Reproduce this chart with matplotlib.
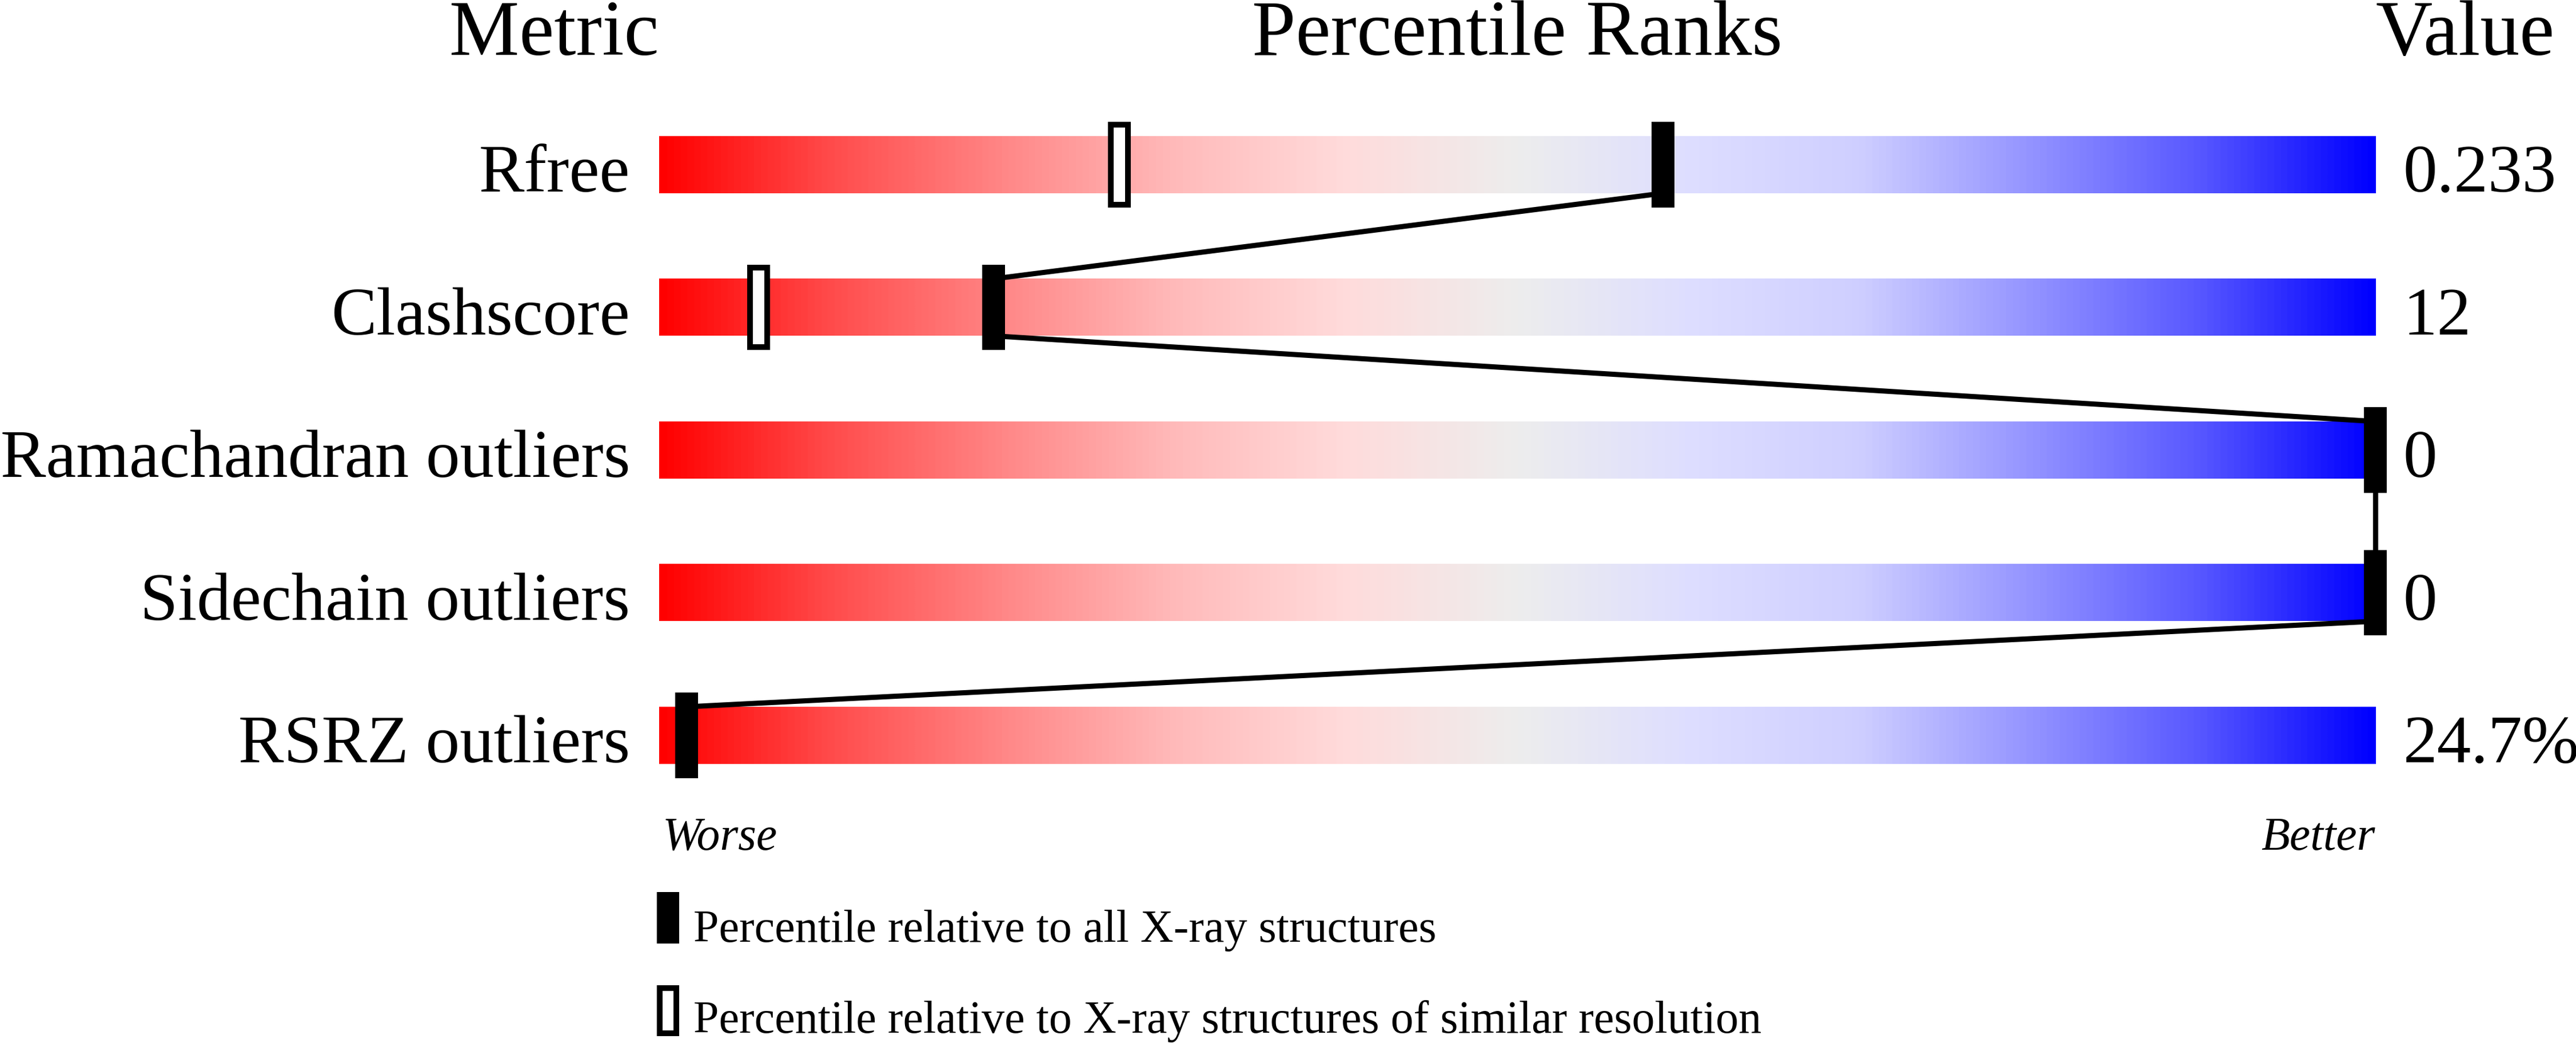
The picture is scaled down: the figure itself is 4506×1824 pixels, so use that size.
import numpy as np
import matplotlib
matplotlib.use("Agg")
import matplotlib.pyplot as plt
from matplotlib.colors import LinearSegmentedColormap
from matplotlib.patches import Rectangle

# metric rows, top to bottom
metrics = ["Rfree", "Clashscore", "Ramachandran outliers", "Sidechain outliers", "RSRZ outliers"]
values = ["0.233", "12", "0", "0", "24.7%"]
# percentile vs all X-ray structures (filled marker)
pct_all = [58.5, 19.5, 100, 100, 1.6]
# percentile vs structures of similar resolution (open marker)
pct_similar = [26.8, 5.8, None, None, None]

legend_labels = ["Percentile relative to all X-ray structures",
                 "Percentile relative to X-ray structures of similar resolution"]

plt.rcParams['font.family'] = ['Liberation Serif', 'DejaVu Serif']

# slider colours: red (worse) -> grey -> blue (better)
grad = LinearSegmentedColormap.from_list("slider", [
    (0.00, (1.00, 0.00, 0.00)),
    (0.10, (1.00, 0.30, 0.30)),
    (0.20, (1.00, 0.53, 0.53)),
    (0.30, (1.00, 0.73, 0.73)),
    (0.40, (1.00, 0.86, 0.86)),
    (0.50, (0.93, 0.93, 0.93)),
    (0.60, (0.87, 0.87, 1.00)),
    (0.70, (0.81, 0.81, 1.00)),
    (0.80, (0.58, 0.58, 1.00)),
    (0.90, (0.34, 0.34, 1.00)),
    (1.00, (0.00, 0.00, 1.00)),
])

W, H = 4506, 1824
fig = plt.figure(figsize=(W / 300, H / 300), dpi=300)
x0, x1 = 1153 / W, 4155 / W
row0, step = 288, 249.5
ytop, ybot = row0 - 0.5 * step, row0 + 4.5 * step
ax = fig.add_axes([x0, 1 - ybot / H, x1 - x0, (ybot - ytop) / H])

bar_h = 0.4
mark_h = 0.6
mark_w = 40 / 3002 * 100
lw_line = 9 / 300 * 72

ramp = np.linspace(0, 1, 600).reshape(1, -1)
n = len(metrics)
for i in range(n):
    ax.imshow(ramp, cmap=grad, aspect='auto', interpolation='bilinear',
              extent=[0, 100, i + bar_h / 2, i - bar_h / 2], zorder=1)

# connecting line: bottom of one slider to top of the next
for i in range(n - 1):
    ax.plot([pct_all[i], pct_all[i + 1]], [i + bar_h / 2, i + 1 - bar_h / 2],
            color='black', lw=lw_line, solid_capstyle='butt', zorder=2,
            clip_on=False)

# open markers
for i, p in enumerate(pct_similar):
    if p is None:
        continue
    ax.bar(p, mark_h - 0.04, bottom=i - (mark_h - 0.04) / 2, width=mark_w * 0.75,
           facecolor='white', edgecolor='black', linewidth=2.4, zorder=3,
           clip_on=False)

# filled markers
ax.bar(pct_all, [mark_h] * n, bottom=[i - mark_h / 2 for i in range(n)],
       width=mark_w, color='black', zorder=4, clip_on=False)

tr = ax.get_yaxis_transform()
for i in range(n):
    ax.text(-0.017, i + 0.19, metrics[i], transform=tr,
            ha='right', va='baseline', fontsize=28.6, clip_on=False)
    ax.text(1.0163, i + 0.19, values[i], transform=tr,
            ha='left', va='baseline', fontsize=28.6, clip_on=False)

head_y = -0.77
ax.text(0.0, head_y, "Metric", transform=tr, ha='right', va='baseline', fontsize=33)
ax.text(0.5, head_y, "Percentile Ranks", transform=tr, ha='center', va='baseline', fontsize=33)
ax.text(1.0, head_y, "Value", transform=tr, ha='left', va='baseline', fontsize=33)

ax.text(0.002, 4.80, "Worse", transform=tr, ha='left', va='baseline',
        fontsize=19.6, style='italic')
ax.text(1.0, 4.80, "Better", transform=tr, ha='right', va='baseline',
        fontsize=19.6, style='italic')

# legend
kw = 1.3
ax.add_patch(Rectangle((-0.13, 5.10), kw, 0.36, facecolor='black',
                       edgecolor='none', clip_on=False))
ax.add_patch(Rectangle((0.03, 5.77), kw - 0.32, 0.32, facecolor='white',
                       edgecolor='black', linewidth=2.4, clip_on=False))
ax.text(0.02, 5.447, legend_labels[0], transform=tr, ha='left', va='baseline',
        fontsize=19.2)
ax.text(0.02, 6.084, legend_labels[1], transform=tr, ha='left', va='baseline',
        fontsize=19.2)

ax.set_xlim(0, 100)
ax.set_ylim(4.5, -0.5)
ax.axis('off')

fig.savefig("out.png", dpi=300)
